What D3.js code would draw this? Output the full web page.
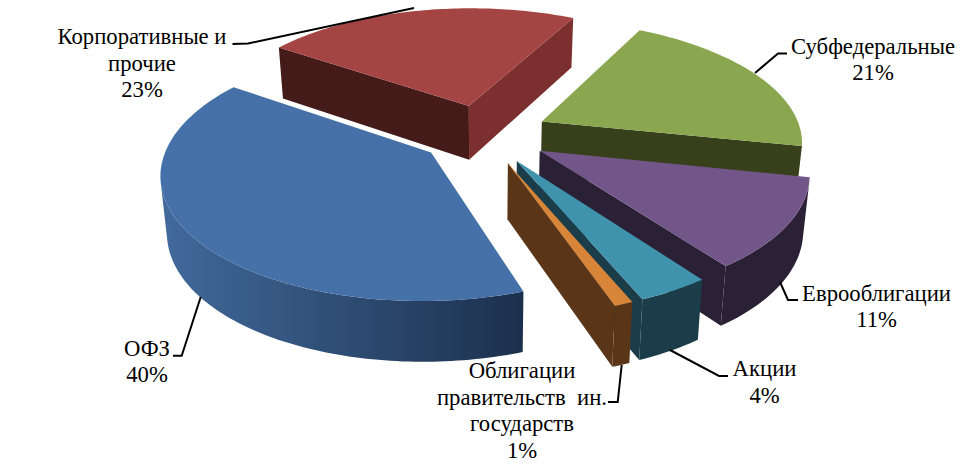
<!DOCTYPE html>
<html>
<head>
<meta charset="utf-8">
<style>
  html, body { margin: 0; background: #fff; }
  svg { display: block; }
  text { font-family: "Liberation Serif", serif; font-size: 22.7px; fill: #000; }
</style>
</head>
<body>
<svg></svg>
<script src="https://cdn.jsdelivr.net/npm/d3@7/dist/d3.min.js"></script>
<script>
const width = 974;
const height = 468;

// shares are read from the drawn wedges, percents are the printed labels
const categories = ['Субфедеральные', 'Еврооблигации', 'Акции', 'Облигации правительств ин. государств', 'ОФЗ', 'Корпоративные и прочие'];
const shares = [20.66, 11.7, 3.75, 0.97, 39.86, 23.06];
const percents = ['21%', '11%', '4%', '1%', '40%', '23%'];
const topColors = ['#8aa64f', '#725689', '#3f93ad', '#d8853a', '#4571a8', '#a54543'];
const wallColors = ['#383f1b', '#2b2137', '#1b3d4a', '#5a3518', 'url(#blueWall)', '#7b2f2e'];
const startWallColors = ['#383f1b', '#2b2137', '#1b3d4a', '#5a3518', '#1b2f4c', '#451b19'];
const drawOrder = [5, 0, 4, 1, 2, 3];

const labelLines = [
  ['Субфедеральные'], ['Еврооблигации'], ['Акции'],
  ['Облигации', 'правительств\u00a0 ин.', 'государств'], ['ОФЗ'], ['Корпоративные и', 'прочие']
];
const labelX = [873, 876.5, 764.5, 522, 147, 142];
const labelY = [53.5, 300.5, 376, 378, 355.5, 44];
const labelStep = 26.5;
const leaders = [
  [[755, 73], [778, 53.5], [787, 53.5]],
  [[780, 282], [788, 300], [798, 300]],
  [[670, 350], [719, 376], [728, 376]],
  [[621.7, 365], [617.7, 402], [608, 402]],
  [[200.7, 297], [181.7, 355.7], [173, 355.7]],
  [[232.5, 44], [248, 43.5], [414, 8]]
];

const view = { cx: 484, cy: 134, rx: 260, ry: 120, persp: 0.15, explode: 0.25 };

const svg = d3.select('svg').attr('width', width).attr('height', height);

const grad = svg.append('defs').append('linearGradient')
    .attr('id', 'blueWall')
    .attr('gradientUnits', 'userSpaceOnUse')
    .attr('x1', 165).attr('x2', 528).attr('y1', 0).attr('y2', 0);
grad.append('stop').attr('offset', 0).attr('stop-color', '#41699a');
grad.append('stop').attr('offset', 1).attr('stop-color', '#1b2f4c');

const pie = d3.pie().sort(null).value(d => d).startAngle(27.5 * Math.PI / 180).endAngle(387.5 * Math.PI / 180);
const arcs = pie(shares);
const line = d3.line();

// disc position -> screen, bottom=true gives the lower face of the slab
function project(u, v, bottom) {
  const w = 1 - view.persp * v;
  let x = view.rx * u / w;
  let y = view.cy + view.ry * v / w;
  if (bottom) {
    x = x * 0.98;
    y += 55 + 5 * v;
  }
  return [view.cx + x, y];
}

function slicePoint(d, angle, r, bottom) {
  const mid = (d.startAngle + d.endAngle) / 2;
  const u = view.explode * Math.sin(mid) + r * Math.sin(angle);
  const v = -view.explode * Math.cos(mid) - r * Math.cos(angle);
  return project(u, v, bottom);
}

function arcAngles(d) {
  const n = Math.max(2, Math.ceil((d.endAngle - d.startAngle) / 0.02));
  return d3.range(n + 1).map(i => d.startAngle + (d.endAngle - d.startAngle) * i / n);
}

// clockwise on screen means the quad faces the viewer
function facing(quad) {
  return d3.polygonArea(quad) > 0;
}

function quadPath(a0, r0, a1, r1, d) {
  return [slicePoint(d, a0, r0), slicePoint(d, a1, r1), slicePoint(d, a1, r1, true), slicePoint(d, a0, r0, true)];
}

function drawSlice(i) {
  const d = arcs[i];
  const g = svg.append('g').attr('class', 'slice');
  const angles = arcAngles(d);

  // outer wall, only the stretch that looks at the viewer
  const visible = angles.filter((a, j) => j < angles.length - 1 && facing(quadPath(a, 1, angles[j + 1], 1, d)));
  if (visible.length) {
    const stepA = angles[1] - angles[0];
    const run = visible.concat([visible[visible.length - 1] + stepA]);
    const pts = run.map(a => slicePoint(d, a, 1)).concat(run.slice().reverse().map(a => slicePoint(d, a, 1, true)));
    g.append('path').attr('d', line(pts) + 'Z').attr('fill', wallColors[i]);
  }

  // radial walls
  const startWall = quadPath(d.startAngle, 0, d.startAngle, 1, d);
  if (facing(startWall)) {
    g.append('path').attr('d', line(startWall) + 'Z').attr('fill', startWallColors[i]);
  }
  const endWall = quadPath(d.endAngle, 1, d.endAngle, 0, d);
  if (facing(endWall)) {
    g.append('path').attr('d', line(endWall) + 'Z').attr('fill', wallColors[i]);
  }

  // top face
  const top = [slicePoint(d, 0, 0)].concat(angles.map(a => slicePoint(d, a, 1)));
  g.append('path').attr('d', line(top) + 'Z').attr('fill', topColors[i]);
}

drawOrder.forEach(drawSlice);

svg.append('g').selectAll('path')
    .data(leaders)
    .enter().append('path')
    .attr('d', d => line(d))
    .attr('fill', 'none')
    .attr('stroke', '#000')
    .attr('stroke-width', 2);

categories.forEach((name, i) => {
  const lines = labelLines[i].concat([percents[i]]);
  svg.append('text')
      .attr('text-anchor', 'middle')
      .selectAll('tspan')
      .data(lines)
      .enter().append('tspan')
      .attr('x', labelX[i])
      .attr('y', (d, j) => labelY[i] + j * labelStep)
      .text(d => d);
});
</script>
</body>
</html>
